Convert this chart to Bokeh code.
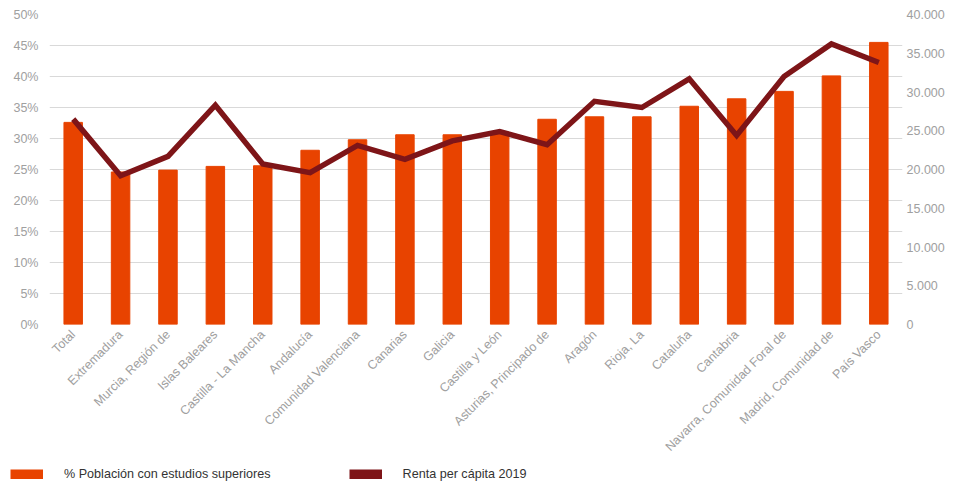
from math import pi
from bokeh.plotting import figure
from bokeh.layouts import column
from bokeh.models import (ColumnDataSource, Range1d, LinearAxis, PrintfTickFormatter,
                          CustomJSTickFormatter, Legend, LegendItem, FactorRange)
from bokeh.embed import file_html
from bokeh.resources import INLINE

regions = ["Total", "Extremadura", "Murcia, Región de", "Islas Baleares", "Castilla - La Mancha",
           "Andalucía", "Comunidad Valenciana", "Canarias", "Galicia", "Castilla y León",
           "Asturias, Principado de", "Aragón", "Rioja, La", "Cataluña", "Cantabria",
           "Navarra, Comunidad Foral de", "Madrid, Comunidad de", "País Vasco"]
pct_superiores = [32.6, 24.6, 24.9, 25.5, 25.6, 28.1, 29.8, 30.6, 30.6, 31.0,
                  33.1, 33.5, 33.5, 35.2, 36.4, 37.6, 40.1, 45.5]
renta_2019 = [26500, 19200, 21700, 28300, 20700, 19600, 23100, 21300, 23700, 24900,
              23200, 28800, 28000, 31700, 24400, 32000, 36200, 33800]

BAR = "#E84300"
LINE = "#7E1518"
GRAY = "#a0a0a0"
FONT = "Liberation Sans"
W = 952

src = ColumnDataSource(dict(region=regions, pct=pct_superiores, renta=renta_2019))

p = figure(x_range=FactorRange(*regions, range_padding=0), y_range=Range1d(0, 50),
           width=W, height=466, output_backend="svg", toolbar_location=None,
           min_border_left=49, min_border_right=W - 902, min_border_top=14, min_border_bottom=142)
p.outline_line_color = None
p.extra_y_ranges = {"renta": Range1d(0, 40000)}

p.vbar(x="region", top="pct", width=0.39, source=src, color=BAR)
p.line(x="region", y="renta", source=src, y_range_name="renta",
       line_color=LINE, line_width=5.5, line_join="miter")

p.yaxis.ticker = list(range(0, 51, 5))
p.yaxis.formatter = PrintfTickFormatter(format="%d%%")
ra = LinearAxis(y_range_name="renta", ticker=list(range(0, 40001, 5000)),
                formatter=CustomJSTickFormatter(code="return tick.toString().replace(/\\B(?=(\\d{3})+(?!\\d))/g, '.');"))
p.add_layout(ra, "right")
for ax in (p.yaxis[0], ra, p.xaxis[0]):
    ax.axis_line_color = None
    ax.major_tick_line_color = None
    ax.minor_tick_line_color = None
    ax.major_tick_out = 0
    ax.major_tick_in = 0
    ax.minor_tick_out = 0
    ax.major_label_text_color = GRAY
    ax.major_label_text_font = FONT
    ax.major_label_text_font_size = "12.5px"
p.yaxis[0].major_label_standoff = 11
ra.major_label_standoff = 4
p.xaxis.major_label_orientation = pi / 4
p.xaxis.major_label_standoff = 8

p.xgrid.grid_line_color = None
p.ygrid.grid_line_color = "#d9d9d9"
p.ygrid.grid_line_width = 1

# legend strip
lg = figure(width=W, height=16, output_backend="svg", toolbar_location=None,
            x_axis_location=None, y_axis_location=None, min_border=0,
            x_range=Range1d(0, 1), y_range=Range1d(0, 1))
lg.frame_align = False
lg.outline_line_color = None
lg.grid.grid_line_color = None
offscreen = ColumnDataSource(dict(x=[5, 6], y=[5, 6]))
sw1 = lg.line(x="x", y="y", source=offscreen, line_color=BAR, line_width=10)
sw2 = lg.line(x="x", y="y", source=offscreen, line_color=LINE, line_width=10)
legend = Legend(items=[LegendItem(label="% Población con estudios superiores", renderers=[sw1]),
                       LegendItem(label="Renta per cápita 2019", renderers=[sw2])],
                orientation="horizontal", location=(10, 1),
                glyph_width=33, glyph_height=10, label_standoff=21, spacing=78,
                padding=0, margin=0, border_line_color=None, background_fill_alpha=0,
                label_text_font=FONT, label_text_font_size="12.6px", label_text_color="#333333")
lg.add_layout(legend, "center")

open("out.html", "w").write(file_html(column(p, lg), INLINE))
